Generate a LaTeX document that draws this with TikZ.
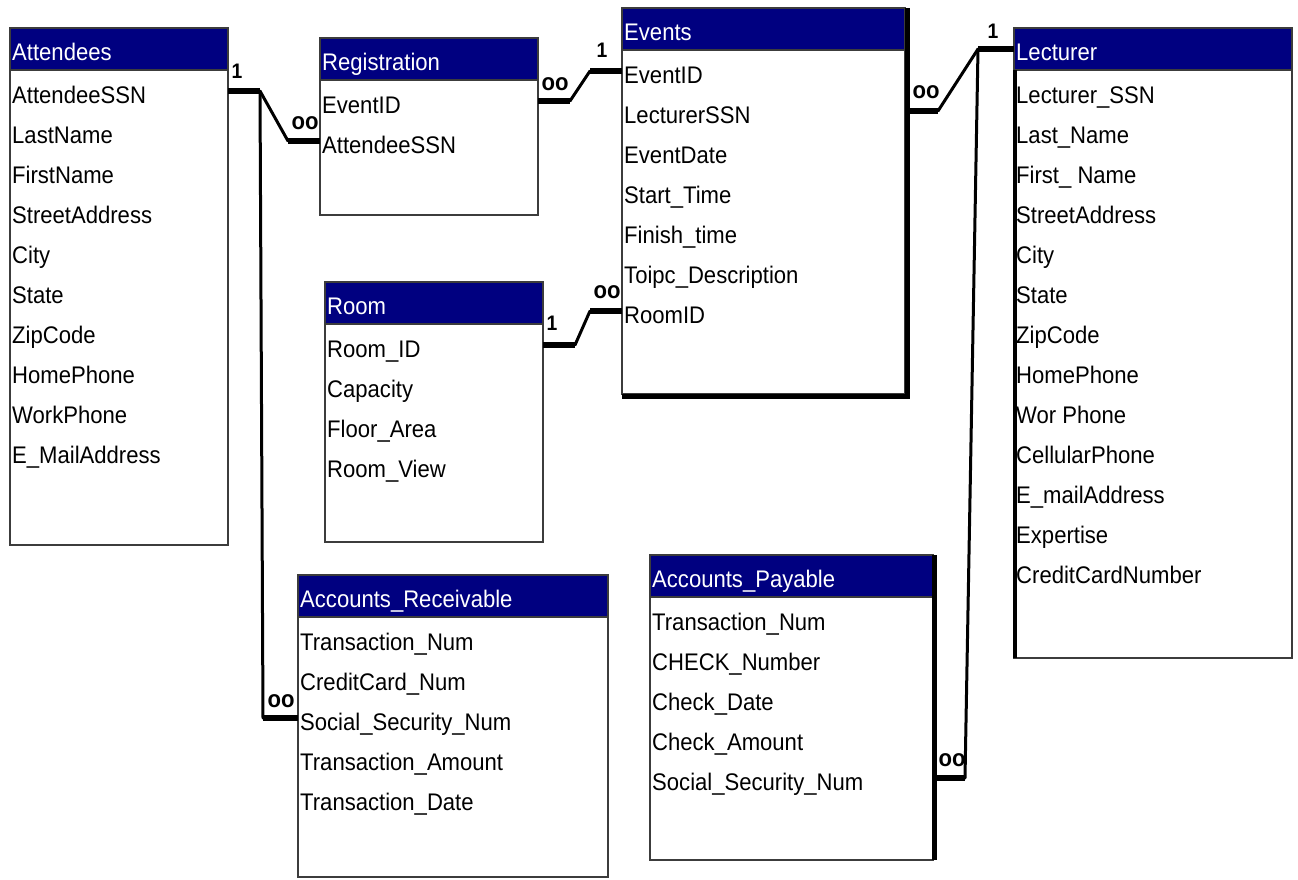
\documentclass[tikz,border=0pt]{standalone}
\usepackage{fontspec}
\setmainfont{Liberation Sans}[FakeStretch=0.92]

\definecolor{hdrnavy}{RGB}{0,0,128}
\definecolor{edgegray}{RGB}{60,60,60}

\tikzset{
  tblbody/.style={draw=edgegray, line width=1.6pt, fill=white, anchor=north west,
                  inner sep=0pt, outer sep=0pt},
  tblhead/.style={draw=edgegray, line width=1.6pt, fill=hdrnavy, anchor=north west,
                  inner sep=0pt, outer sep=0pt, minimum height=42pt},
  tbltitle/.style={anchor=base west, inner sep=0pt, text=white,
                   font=\fontsize{24}{28}\selectfont},
  tblfield/.style={anchor=base west, inner sep=0pt, font=\fontsize{24}{28}\selectfont},
  relstub/.style={line width=6pt, line cap=butt},
  relline/.style={line width=3pt, line cap=round, line join=round},
  cardone/.style={font=\fontsize{21}{24}\selectfont\bfseries, inner sep=0pt},
  cardmany/.style={font=\fontsize{24}{24}\selectfont\bfseries, inner sep=0pt},
  boxshadow/.style={line width=4.5pt, black, line cap=butt},
}

% #1 name, #2 left, #3 top, #4 width, #5 height, #6 title, #7 field list
\newcommand\erTable[7]{%
  \node[tblbody, minimum width=#4pt, minimum height=#5pt] (#1) at (#2,#3) {};
  \node[tblhead, minimum width=#4pt] (#1-head) at (#1.north west) {};
  \node[tbltitle] (#1-title) at ([xshift=2pt,yshift=-32pt]#1.north west) {#6};
  \foreach \f [count=\i] in {#7} {
    \pgfmathsetmacro\yb{-(35+40*\i)}
    \pgfmathsetmacro\yc{-(23+40*\i)}
    \node[tblfield] (#1-f\i) at ([xshift=2pt,yshift=\yb pt]#1.north west) {\f};
    \coordinate (#1-\i-l) at ([yshift=\yc pt]#1.north west);
    \coordinate (#1-\i-r) at ([yshift=\yc pt]#1.north east);
  }
}

\begin{document}
\begin{tikzpicture}[x=1pt, y=-1pt]
\useasboundingbox (0,0) rectangle (1298,879);

% ---------- tables ----------
\erTable{attendees}{10}{28}{218}{517}{Attendees}%
  {AttendeeSSN,LastName,FirstName,StreetAddress,City,State,ZipCode,HomePhone,WorkPhone,E\_MailAddress}
\erTable{registration}{320}{38}{218}{177}{Registration}{EventID,AttendeeSSN}
\erTable{events}{622}{8}{283}{386}{Events}%
  {EventID,LecturerSSN,EventDate,Start\_Time,Finish\_time,Toipc\_Description,RoomID}
\erTable{room}{325}{282}{218}{260}{Room}{Room\_ID,Capacity,Floor\_Area,Room\_View}
\erTable{lecturer}{1014}{28}{278}{630}{Lecturer}%
  {Lecturer\_SSN,Last\_Name,First\_ Name,StreetAddress,City,State,ZipCode,HomePhone,%
   Wor Phone,CellularPhone,E\_mailAddress,Expertise,CreditCardNumber}
\erTable{ar}{298}{575}{310}{302}{Accounts\_Receivable}%
  {Transaction\_Num,CreditCard\_Num,Social\_Security\_Num,Transaction\_Amount,Transaction\_Date}
\erTable{ap}{650}{555}{283}{305}{Accounts\_Payable}%
  {Transaction\_Num,CHECK\_Number,Check\_Date,Check\_Amount,Social\_Security\_Num}

% heavier edges on some tables
\draw[boxshadow] ([xshift=2.5pt]events.north east) -- ([xshift=2.5pt,yshift=-2.5pt]events.south east)
                 -- ([yshift=-2.5pt]events.south west);
\draw[boxshadow] ([xshift=1.5pt]ap.north east) -- ([xshift=1.5pt]ap.south east);
\draw[boxshadow] ([xshift=1pt]lecturer-head.south west) -- ([xshift=1pt]lecturer.south west);

% ---------- relationships ----------
% Attendees -- Registration, Attendees -- Accounts_Receivable
\draw[relstub] (attendees-1-r) -- ++(32,0) coordinate (c1a);
\draw[relstub] (registration-2-l) -- ++(-32,0) coordinate (c1b);
\draw[relline] (c1a) -- (c1b);
\draw[relstub] (ar-3-l) -- ++(-35,0) coordinate (c1c);
\draw[relline] (c1a) -- (c1c);

% Registration -- Events
\draw[relstub] (registration-1-r) -- ++(32,0) coordinate (c2a);
\draw[relstub] (events-1-l) -- ++(-32,0) coordinate (c2b);
\draw[relline] (c2a) -- (c2b);

% Events -- Lecturer, Lecturer -- Accounts_Payable
\draw[relstub] (events-2-r) -- ++(33,0) coordinate (c3a);
\draw[relstub] (lecturer-head.west) -- ++(-36,0) coordinate (c3b);
\draw[relline] (c3a) -- (c3b);
\draw[relstub] (ap-5-r) -- ++(32,0) coordinate (c3c);
\draw[relline] (c3b) -- (c3c);

% Room -- Events
\draw[relstub] (room-1-r) -- ++(32,0) coordinate (c4a);
\draw[relstub] (events-7-l) -- ++(-32,0) coordinate (c4b);
\draw[relline] (c4a) -- (c4b);

% ---------- cardinalities ----------
\node[cardone]  (k1) at (237,71)  {1};
\node[cardmany] (k2) at (305,123) {oo};
\node[cardmany] (k3) at (281,701) {oo};
\node[cardmany] (k4) at (555,84)  {oo};
\node[cardone]  (k5) at (602,50)  {1};
\node[cardmany] (k6) at (926,92)  {oo};
\node[cardone]  (k7) at (993,31)  {1};
\node[cardone]  (k8) at (552,323) {1};
\node[cardmany] (k9) at (607,292) {oo};
\node[cardmany] (k10) at (952,760) {oo};
\end{tikzpicture}
\end{document}
